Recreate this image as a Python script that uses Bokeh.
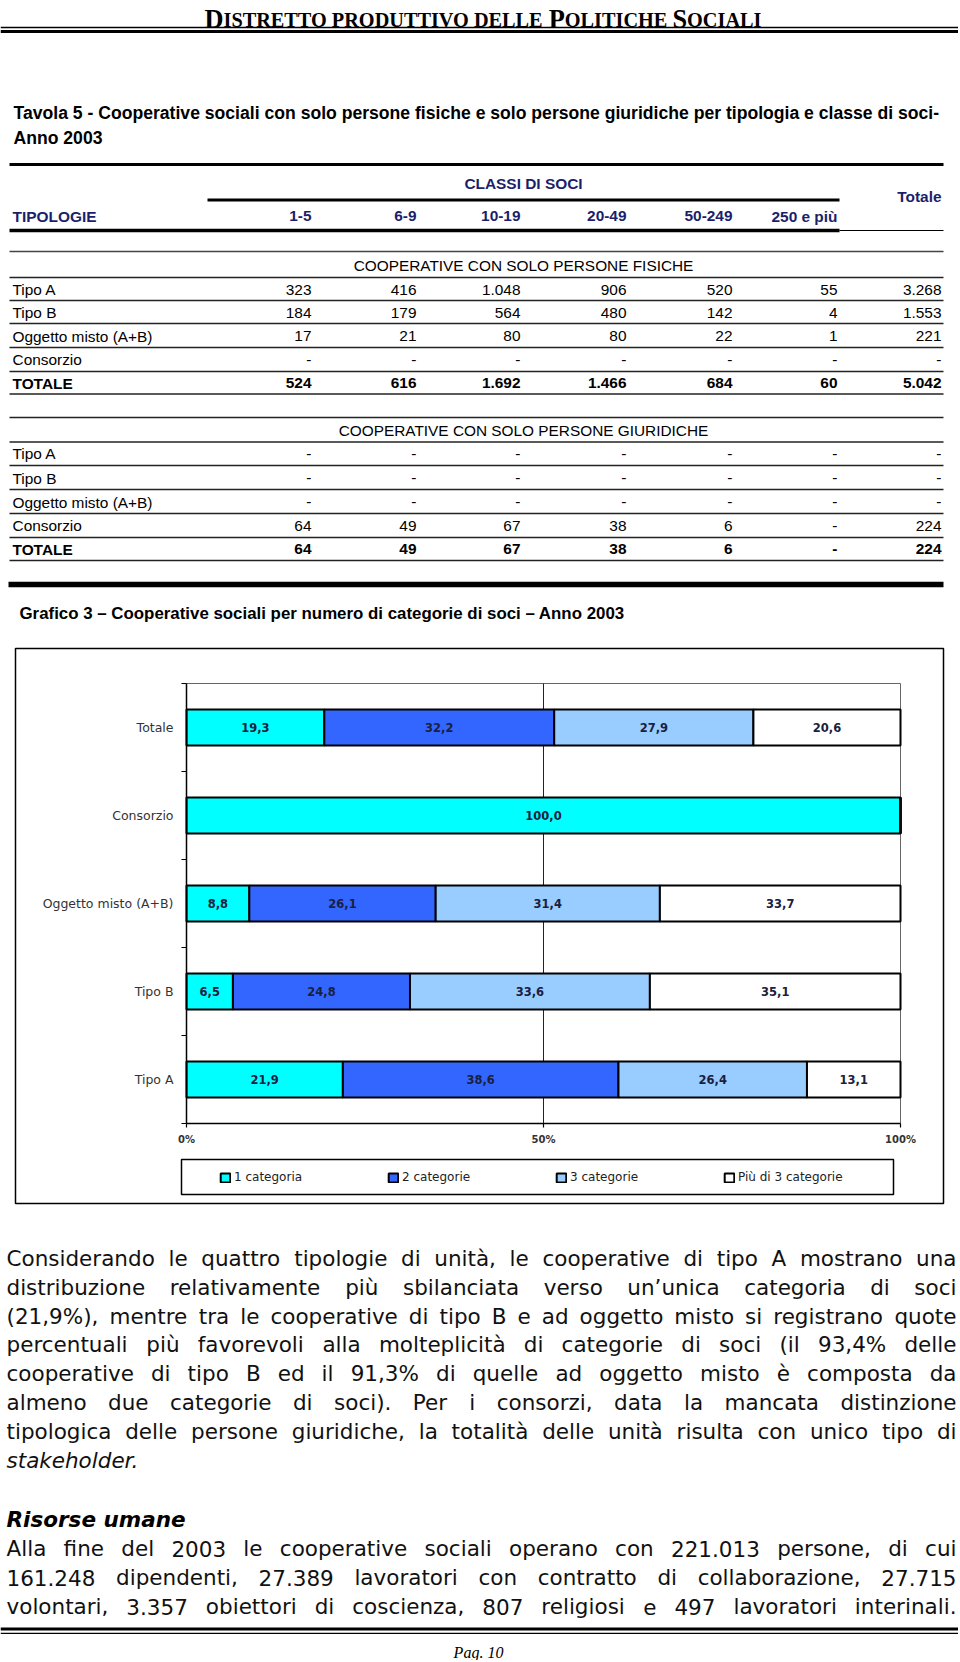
import os
import struct
import numpy as np
from bokeh.plotting import figure
from bokeh.models import Range1d, ColumnDataSource, Legend, LegendItem
from bokeh.core.properties import value
from bokeh.embed import file_html
from bokeh.resources import INLINE

# ============================ DATA ============================
header_pieces = [("D", True), ("ISTRETTO PRODUTTIVO DELLE ", False), ("P", True),
                 ("OLITICHE ", False), ("S", True), ("OCIALI", False)]
table_title_1 = ("Tavola 5 - Cooperative sociali con solo persone fisiche e solo persone "
                 "giuridiche per tipologia e classe di soci-")
table_title_2 = "Anno 2003"
classes_title = "CLASSI DI SOCI"
tipologie_label = "TIPOLOGIE"
class_labels = ["1-5", "6-9", "10-19", "20-49", "50-249", "250 e più"]
total_label = "Totale"
row_labels = ["Tipo A", "Tipo B", "Oggetto misto (A+B)", "Consorzio", "TOTALE"]
section_fisiche = "COOPERATIVE CON SOLO PERSONE FISICHE"
section_giuridiche = "COOPERATIVE CON SOLO PERSONE GIURIDICHE"

fis_tipo_a = ["323", "416", "1.048", "906", "520", "55", "3.268"]
fis_tipo_b = ["184", "179", "564", "480", "142", "4", "1.553"]
fis_misto = ["17", "21", "80", "80", "22", "1", "221"]
fis_consorzio = ["-", "-", "-", "-", "-", "-", "-"]
fis_totale = ["524", "616", "1.692", "1.466", "684", "60", "5.042"]

giu_tipo_a = ["-", "-", "-", "-", "-", "-", "-"]
giu_tipo_b = ["-", "-", "-", "-", "-", "-", "-"]
giu_misto = ["-", "-", "-", "-", "-", "-", "-"]
giu_consorzio = ["64", "49", "67", "38", "6", "-", "224"]
giu_totale = ["64", "49", "67", "38", "6", "-", "224"]

chart_title = "Grafico 3 – Cooperative sociali per numero di categorie di soci – Anno 2003"

# chart (bottom -> top)
chart_categories = ["Tipo A", "Tipo B", "Oggetto misto (A+B)", "Consorzio", "Totale"]
series_names = ["1 categoria", "2 categorie", "3 categorie", "Più di 3 categorie"]
cat_1 = [21.9, 6.5, 8.8, 100.0, 19.3]
cat_2 = [38.6, 24.8, 26.1, 0.0, 32.2]
cat_3 = [26.4, 33.6, 31.4, 0.0, 27.9]
cat_4 = [13.1, 35.1, 33.7, 0.0, 20.6]
x_tick_values = [0, 50, 100]
x_tick_labels = ["0%", "50%", "100%"]

paragraph_1 = [
    "Considerando le quattro tipologie di unità, le cooperative di tipo A mostrano una",
    "distribuzione relativamente più sbilanciata verso un’unica categoria di soci",
    "(21,9%), mentre tra le cooperative di tipo B e ad oggetto misto si registrano quote",
    "percentuali più favorevoli alla molteplicità di categorie di soci (il 93,4% delle",
    "cooperative di tipo B ed il 91,3% di quelle ad oggetto misto è composta da",
    "almeno due categorie di soci). Per i consorzi, data la mancata distinzione",
    "tipologica delle persone giuridiche, la totalità delle unità risulta con unico tipo di",
]
paragraph_1_last = "stakeholder."
section_heading = "Risorse umane"
paragraph_2 = [
    "Alla fine del 2003 le cooperative sociali operano con 221.013 persone, di cui",
    "161.248 dipendenti, 27.389 lavoratori con contratto di collaborazione, 27.715",
    "volontari, 3.357 obiettori di coscienza, 807 religiosi e 497 lavoratori interinali.",
]
page_number = "Pag. 10"

# ============================ FONT METRICS ============================
FONT_INDEX = {}
for root in ["/usr/share/fonts", "/usr/local/share/fonts",
             os.path.expanduser("~/.fonts"), os.path.expanduser("~/.local/share/fonts")]:
    if os.path.isdir(root):
        for dp, dn, fn in os.walk(root):
            for f in fn:
                FONT_INDEX.setdefault(f.lower(), os.path.join(dp, f))


def _parse_ttf(path):
    data = open(path, "rb").read()
    off = 0
    if data[:4] == b"ttcf":
        off = struct.unpack(">I", data[12:16])[0]
    ntab = struct.unpack(">H", data[off + 4:off + 6])[0]
    tables = {}
    for i in range(ntab):
        rec = off + 12 + 16 * i
        tag = data[rec:rec + 4].decode("latin1")
        _, toff, tlen = struct.unpack(">III", data[rec + 4:rec + 16])
        tables[tag] = toff
    head = tables["head"]
    upem = struct.unpack(">H", data[head + 18:head + 20])[0]
    hhea = tables["hhea"]
    nhm = struct.unpack(">H", data[hhea + 34:hhea + 36])[0]
    hmtx = tables["hmtx"]
    adv = [struct.unpack(">H", data[hmtx + 4 * i:hmtx + 4 * i + 2])[0] for i in range(nhm)]
    cmap = tables["cmap"]
    nsub = struct.unpack(">H", data[cmap + 2:cmap + 4])[0]
    sub = None
    for i in range(nsub):
        pid, eid, soff = struct.unpack(">HHI", data[cmap + 4 + 8 * i:cmap + 12 + 8 * i])
        fmt = struct.unpack(">H", data[cmap + soff:cmap + soff + 2])[0]
        if fmt == 4 and (pid == 0 or (pid == 3 and eid in (0, 1))):
            sub = cmap + soff
            break
    segx2 = struct.unpack(">H", data[sub + 6:sub + 8])[0]
    nseg = segx2 // 2
    ends = struct.unpack(">%dH" % nseg, data[sub + 14:sub + 14 + segx2])
    so = sub + 16 + segx2
    starts = struct.unpack(">%dH" % nseg, data[so:so + segx2])
    do = so + segx2
    deltas = struct.unpack(">%dh" % nseg, data[do:do + segx2])
    ro = do + segx2
    ros = struct.unpack(">%dH" % nseg, data[ro:ro + segx2])

    def gid(c):
        for i in range(nseg):
            if ends[i] >= c:
                if starts[i] > c:
                    return 0
                if ros[i] == 0:
                    return (c + deltas[i]) & 0xFFFF
                addr = ro + 2 * i + ros[i] + 2 * (c - starts[i])
                g = struct.unpack(">H", data[addr:addr + 2])[0]
                return (g + deltas[i]) & 0xFFFF if g else 0
        return 0

    cache = {}

    def width(s):
        w = 0
        for ch in s:
            if ch not in cache:
                g = gid(ord(ch))
                cache[ch] = adv[min(g, nhm - 1)] / upem
            w += cache[ch]
        return w
    return width


def metrics(fname, fallback_em):
    path = FONT_INDEX.get(fname.lower())
    if path:
        try:
            return _parse_ttf(path)
        except Exception:
            pass
    return lambda s: fallback_em * len(s)


if "liberationsansnarrow-regular.ttf" in FONT_INDEX:
    TABLE_FONT = "Liberation Sans Narrow"
    w_tab = metrics("LiberationSansNarrow-Regular.ttf", 0.42)
    w_tab_b = metrics("LiberationSansNarrow-Bold.ttf", 0.45)
else:
    TABLE_FONT = "Liberation Sans"
    w_tab = metrics("LiberationSans-Regular.ttf", 0.5)
    w_tab_b = metrics("LiberationSans-Bold.ttf", 0.55)

BODY_FONT = "DejaVu Sans"
w_body = metrics("DejaVuSans.ttf", 0.55)

SERIF_FONT = "Liberation Serif"
w_serif_b = metrics("LiberationSerif-Bold.ttf", 0.65)
CHART_FONT = "DejaVu Sans"
NAVY = "#1b1f6b"

# ============================ PAGE FIGURE ============================
W, H = 958, 1660
PX0, PY0 = 0, 0
p = figure(width=W, height=H, x_range=Range1d(PX0, PX0 + W), y_range=Range1d(PY0 + H, PY0),
           x_axis_type=None, y_axis_type=None, min_border=0, toolbar_location=None,
           output_backend="svg", outline_line_color=None, title=None,
           background_fill_color="white", border_fill_color="white")


def txt(xs, ys, texts, size, font, style="normal", color="black", align="left",
        baseline="middle", **kw):
    p.text(x=list(xs), y=list(ys), text=list(texts), text_font=value(font),
           text_font_size="%.2fpx" % size, text_font_style=style, text_color=color,
           text_align=align, text_baseline=baseline, **kw)


def hline(x0, x1, y, lw, color="black"):
    p.segment(x0=[x0], y0=[y], x1=[x1], y1=[y], line_width=lw, line_color=color)


# ---------------- running header (emulated small caps) ----------------
ratio = 0.77
unit = sum(w_serif_b(t) * (1.0 if big else ratio) for t, big in header_pieces)
big_size = 557.0 / unit
hx = 204.0
for t, big in header_pieces:
    s = big_size * (1.0 if big else ratio)
    txt([hx], [19.0], [t.rstrip()], s, SERIF_FONT, style="bold", baseline="alphabetic")
    hx += w_serif_b(t) * s
hline(0, W, 27.0, 1.4)
hline(0, W, 31.0, 3.2)

# ---------------- table ----------------
title_size = 927.0 / w_tab_b(table_title_1)
txt([13], [112], [table_title_1], title_size, TABLE_FONT, style="bold")
txt([13], [137], [table_title_2], title_size, TABLE_FONT, style="bold")

col_right = [311, 416, 520, 626, 732, 837, 941]
head_size = 84.0 / w_tab_b(tipologie_label)
body_size = 140.0 / w_tab(row_labels[2])
sec_size = 341.0 / w_tab(section_fisiche)

hline(9, 943, 164, 3.0)
txt([523], [183], [classes_title], head_size, TABLE_FONT, "bold", NAVY, "center")
txt([941], [196], [total_label], head_size, TABLE_FONT, "bold", NAVY, "right")
hline(207, 839, 199.5, 3.0)
txt([12], [215.5], [tipologie_label], head_size, TABLE_FONT, "bold", NAVY)
txt(col_right[:6], [215.5] * 6, class_labels, head_size, TABLE_FONT, "bold", NAVY, "right")
hline(9, 839, 230, 3.5)
hline(839, 943, 230, 1.2)
hline(9, 943, 251, 1.5, "#444444")


def table_section(title, title_y, line_ys, row_ys, rows):
    txt([523], [title_y], [title], sec_size, TABLE_FONT, "normal", "black", "center")
    for y in line_ys:
        hline(9, 943, y, 1.6, "#222222")
    for i, (lab, vals, y) in enumerate(zip(row_labels, rows, row_ys)):
        st = "bold" if i == len(rows) - 1 else "normal"
        txt([12], [y], [lab], body_size, TABLE_FONT, st)
        txt(col_right, [y] * 7, vals, body_size, TABLE_FONT, st, "black", "right")


table_section(section_fisiche, 265, [277, 300, 323, 347, 371, 393.5],
              [289, 312, 335.5, 359, 382.5],
              [fis_tipo_a, fis_tipo_b, fis_misto, fis_consorzio, fis_totale])
table_section(section_giuridiche, 429.5, [417, 441.5, 465, 489, 513, 537, 560],
              [453, 477.5, 501.5, 525, 548.5],
              [giu_tipo_a, giu_tipo_b, giu_misto, giu_consorzio, giu_totale])
hline(8, 943, 584, 5.5)

graf_size = 606.0 / w_tab_b(chart_title)
txt([19], [613], [chart_title], graf_size, TABLE_FONT, style="bold")

# ---------------- chart ----------------
p.quad(left=[15], right=[943], top=[648], bottom=[1203],
       fill_color=None, line_color="black", line_width=1.5)

# plot area (page px) -> extra ranges so the data go through Bokeh's own scales
PL, PR, PT, PB = 186.0, 900.0, 683.0, 1123.0
ncat = len(chart_categories)
kx = (PR - PL) / 100.0
xs0 = -(PL - PX0) / kx
p.extra_x_ranges = {"pct": Range1d(xs0, xs0 + W / kx)}
ky = (PB - PT) / ncat
ys0 = -((PY0 + H) - PB) / ky
p.extra_y_ranges = {"cat": Range1d(ys0, ys0 + H / ky)}
CH = dict(x_range_name="pct", y_range_name="cat")

px = 1.0 / kx   # one pixel in pct units
py = 1.0 / ky   # one pixel in category units

# frame outline (top, right) and 50% gridline
p.segment(x0=[0, 100, 50], y0=[ncat, 0, 0], x1=[100, 100, 50], y1=[ncat, ncat, ncat],
          line_color=["#666666", "#666666", "#222222"], line_width=1, **CH)

ypos = np.arange(ncat) + 0.5
src = ColumnDataSource(data=dict(y=ypos, c1=cat_1, c2=cat_2, c3=cat_3, c4=cat_4))
colors = ["#00FFFF", "#3366FF", "#99CCFF", "#FFFFFF"]
renderers = p.hbar_stack(["c1", "c2", "c3", "c4"], y="y", height=0.41, color=colors,
                         line_color="black", line_width=2, source=src, **CH)

vals = np.array([cat_1, cat_2, cat_3, cat_4])
cum = np.cumsum(vals, axis=0)
mid = cum - vals / 2.0
lx, ly, lt = [], [], []
for s in range(vals.shape[0]):
    for c in range(vals.shape[1]):
        if vals[s, c] > 0:
            lx.append(mid[s, c])
            ly.append(ypos[c])
            lt.append(("%.1f" % vals[s, c]).replace(".", ","))
txt(lx, ly, lt, 11.5, CHART_FONT, "bold", "#1a2040", "center", **CH)

# y axis: line, boundary ticks, category labels
p.segment(x0=[0], y0=[0], x1=[0], y1=[ncat], line_color="black", line_width=1.5, **CH)
bounds = list(range(ncat + 1))
p.segment(x0=[-5 * px] * len(bounds), y0=bounds, x1=[0] * len(bounds), y1=bounds,
          line_color="black", line_width=1.2, **CH)
txt([-13 * px] * ncat, ypos, chart_categories, 12.5, CHART_FONT, "normal", "#333333", "right", **CH)

# x axis: line, ticks, labels
p.segment(x0=[0], y0=[0], x1=[100], y1=[0], line_color="black", line_width=1.5, **CH)
p.segment(x0=x_tick_values, y0=[0] * 3, x1=x_tick_values, y1=[-4 * py] * 3,
          line_color="black", line_width=1.2, **CH)
txt(x_tick_values, [-16 * py] * 3, x_tick_labels, 10, CHART_FONT, "bold", "#333333", "center", **CH)

# legend: visible frame + Bokeh legend (transparent box) placed so items line up
p.quad(left=[181], right=[893], top=[1159], bottom=[1194],
       fill_color="white", line_color="black", line_width=1.5)
LEG_PAD = 12
leg_h = 2 * LEG_PAD + 14
legend = Legend(items=[LegendItem(label=n, renderers=[r]) for n, r in zip(series_names, renderers)],
                orientation="horizontal",
                location=(219 - LEG_PAD - PX0, (PY0 + H) - (1177 + leg_h / 2.0)),
                padding=LEG_PAD, spacing=0, margin=0,
                glyph_width=12, glyph_height=11, label_standoff=3, label_width=153,
                label_text_font=CHART_FONT, label_text_font_size="12px",
                label_text_color="#222222", border_line_alpha=0.0,
                background_fill_alpha=0.0)
p.add_layout(legend)

# ---------------- body text ----------------
X0, X1 = 6.0, 956.0
just_lines = paragraph_1 + paragraph_2
body_txt = min(21.5, min((X1 - X0) / w_body(l) for l in just_lines))


def justified(lines, ys):
    xs_all, ys_all, ts_all = [], [], []
    for line, y in zip(lines, ys):
        words = line.split(" ")
        ws = [w_body(w) * body_txt for w in words]
        gap = (X1 - X0 - sum(ws)) / (len(words) - 1)
        x = X0
        for word, w in zip(words, ws):
            xs_all.append(x)
            ys_all.append(y)
            ts_all.append(word)
            x += w + gap
    txt(xs_all, ys_all, ts_all, body_txt, BODY_FONT, color="#111111")


justified(paragraph_1, [1258, 1287, 1315.5, 1344, 1373, 1402, 1431])
txt([X0], [1460], [paragraph_1_last], body_txt, BODY_FONT, style="italic", color="#111111")
txt([X0], [1518.5], [section_heading], body_txt, BODY_FONT, style="bold italic")
justified(paragraph_2, [1548, 1577, 1606])
hline(0, W, 1628.5, 3.0)
hline(0, W, 1632.8, 1.3)
txt([478], [1652], [page_number], 16, SERIF_FONT, style="italic", align="center",
    baseline="alphabetic")

open("out.html", "w").write(file_html(p, INLINE))
